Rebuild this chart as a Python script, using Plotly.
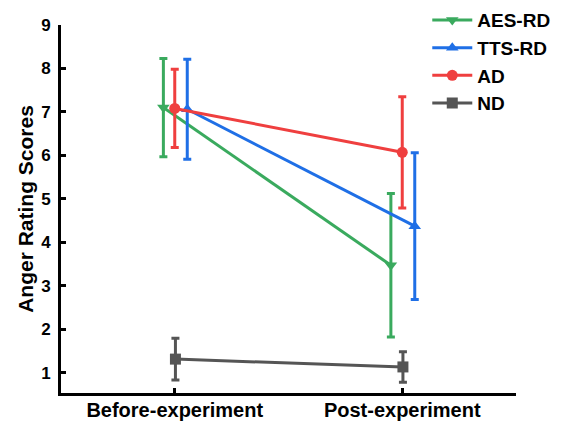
import plotly.graph_objects as go

categories = ["Before-experiment", "Post-experiment"]
series_names = ["AES-RD", "TTS-RD", "AD", "ND"]
aes_rd_mean = [7.10, 3.47]
aes_rd_err = [1.13, 1.65]
tts_rd_mean = [7.06, 4.37]
tts_rd_err = [1.15, 1.69]
ad_mean = [7.08, 6.07]
ad_err = [0.90, 1.28]
nd_mean = [1.31, 1.13]
nd_err = [0.48, 0.35]

colors = ["#3aaa5e", "#1f6fe6", "#ef3f3f", "#555555"]
symbols = ["triangle-down", "triangle-up", "circle", "square"]
dodge = [-0.05, 0.055, 0.0, 0.003]
means = [aes_rd_mean, tts_rd_mean, ad_mean, nd_mean]
errs = [aes_rd_err, tts_rd_err, ad_err, nd_err]

FONT = "Liberation Sans, Arial, sans-serif"

fig = go.Figure()
for name, m, e, c, s, d in zip(series_names, means, errs, colors, symbols, dodge):
    xs = [i + d for i in range(len(categories))]
    fig.add_trace(go.Scatter(
        x=xs, y=m, name=name, mode="lines+markers",
        line=dict(color=c, width=3),
        marker=dict(color=c, symbol=s, size=11, line=dict(width=0)),
        error_y=dict(type="data", array=e, visible=True, color=c, thickness=3, width=4),
    ))

fig.update_layout(
    width=563, height=415,
    margin=dict(l=53, r=55, t=17, b=30, autoexpand=False),
    plot_bgcolor="white", paper_bgcolor="white",
    font=dict(family=FONT, size=16, color="black"),
    showlegend=True,
    legend=dict(
        x=0.805, y=1.065, xanchor="left", yanchor="top",
        font=dict(family=FONT, size=19, color="black", weight="bold"),
        bgcolor="rgba(0,0,0,0)", tracegroupgap=0, itemwidth=40,
    ),
)
fig.update_xaxes(
    range=[-0.5, 1.5], tickvals=[0, 1], ticktext=categories,
    showline=True, linecolor="black", linewidth=3,
    ticks="inside", ticklen=5, tickwidth=2.5, tickcolor="black",
    showgrid=False, zeroline=False, automargin=False,
    ticklabelstandoff=-3,
    tickfont=dict(family=FONT, size=20, color="black", weight="bold"),
)
fig.update_yaxes(
    range=[0.53, 9], tickvals=list(range(1, 10)),
    showline=True, linecolor="black", linewidth=3,
    ticks="inside", ticklen=5, tickwidth=2.5, tickcolor="black",
    showgrid=False, zeroline=False, automargin=False,
    ticklabelstandoff=4,
    tickfont=dict(family=FONT, size=17, color="black", weight="bold"),
    title=dict(text="Anger Rating Scores", standoff=2,
               font=dict(family=FONT, size=21, color="black", weight="bold")),
)

fig.write_html("out.html")
